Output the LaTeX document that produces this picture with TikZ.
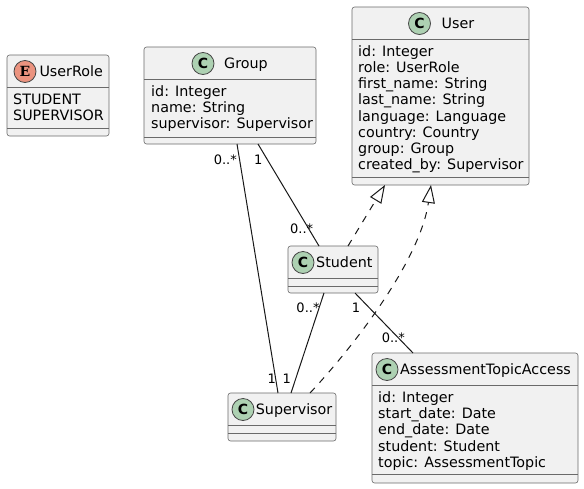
\documentclass[tikz,border=0pt]{standalone}
\usepackage{fontspec}
\setmainfont{DejaVu Sans}
\newfontfamily\enumspot{DejaVu Serif}
\usepackage{tikz}
\usetikzlibrary{calc,positioning,arrows.meta}
\definecolor{umlfill}{HTML}{F1F1F1}
\definecolor{umlline}{HTML}{181818}
\definecolor{umlborder}{HTML}{6A6A6A}
\definecolor{spotgreen}{HTML}{ADD1B2}
\definecolor{spotred}{HTML}{EB937F}
\tikzstyle{classbox} = [draw=umlborder, fill=umlfill, line width=0.6pt, rounded corners=2.5pt, inner sep=0pt, outer sep=0pt]
\tikzstyle{sepline}  = [draw=umlborder, line width=0.6pt]
\tikzstyle{spot}     = [circle, draw=umlline!80, line width=0.8pt, minimum size=22pt, inner sep=0pt, fill=spotgreen, font=\fontsize{14}{14}\selectfont\bfseries]
\tikzstyle{cname}    = [anchor=base west, inner sep=0pt, font=\fontsize{14.3}{16}\selectfont]
\tikzstyle{attr}     = [anchor=base west, inner sep=0pt, font=\fontsize{14.3}{16}\selectfont]
\tikzstyle{mult}     = [inner sep=0pt, font=\fontsize{13}{13}\selectfont]
\tikzstyle{assoc}    = [draw=umlline, line width=1pt]
\tikzstyle{realize}  = [draw=umlline, line width=1pt, dash pattern=on 7pt off 7pt, -{Triangle[open,length=18pt,width=13pt]}]

\begin{document}
\begin{tikzpicture}[x=1pt,y=-1pt]
		\useasboundingbox (0,0) rectangle (584,488);

		% enum UserRole
		\node[classbox, minimum width=102pt, minimum height=81pt] (userrole) at (58,95.5) {};
		\draw[sepline] (7,87.5) -- (109,87.5);
		\draw[sepline] (7,128) -- (109,128);
		\node[spot, fill=spotred, font=\fontsize{14}{14}\selectfont\enumspot\bfseries] (userrole-spot) at (25,71.5) {E};
		\node[cname] (userrole-name) at (39.3,76.5) {UserRole};
		\foreach \txt [count=\i from 0] in {STUDENT, SUPERVISOR}
			\node[attr] (userrole-\i) at (13,104+16.2*\i) {\txt};

		% Group
		\node[classbox, minimum width=172pt, minimum height=97pt] (group) at (230,95.5) {};
		\draw[sepline] (144,79.5) -- (316,79.5);
		\draw[sepline] (144,137) -- (316,137);
		\node[spot] (group-spot) at (203,63.5) {C};
		\node[cname] (group-name) at (224,68.5) {Group};
		\foreach \txt [count=\i from 0] in {id: Integer, name: String, supervisor: Supervisor}
			\node[attr] (group-\i) at (151,96.5+16.2*\i) {\txt};

		% User
		\node[classbox, minimum width=177pt, minimum height=178pt] (user) at (440.5,96) {};
		\draw[sepline] (352,39.5) -- (529,39.5);
		\draw[sepline] (352,177) -- (529,177);
		\node[spot] (user-spot) at (419.5,23.5) {C};
		\node[cname] (user-name) at (441.5,28.5) {User};
		\foreach \txt [count=\i from 0] in {id: Integer, role: UserRole, first\_name: String, last\_name: String, language: Language, country: Country, group: Group, created\_by: Supervisor}
			\node[attr] (user-\i) at (358,56.3+16.2*\i) {\txt};

		% Student
		\node[classbox, minimum width=90pt, minimum height=47pt] (student) at (333,269.5) {};
		\draw[sepline] (288,278.5) -- (378,278.5);
		\draw[sepline] (288,286) -- (378,286);
		\node[spot] (student-spot) at (303,262.5) {C};
		\node[cname] (student-name) at (316,267.5) {Student};

		% Supervisor
		\node[classbox, minimum width=108pt, minimum height=48pt] (supervisor) at (282,417) {};
		\draw[sepline] (228,425.5) -- (336,425.5);
		\draw[sepline] (228,433) -- (336,433);
		\node[spot] (supervisor-spot) at (243,409.5) {C};
		\node[cname] (supervisor-name) at (255.7,414.5) {Supervisor};

		% AssessmentTopicAccess
		\node[classbox, minimum width=206pt, minimum height=130pt] (access) at (475,418) {};
		\draw[sepline] (372,385.5) -- (578,385.5);
		\draw[sepline] (372,474) -- (578,474);
		\node[spot] (access-spot) at (387,369.5) {C};
		\node[cname] (access-name) at (400,374.5) {AssessmentTopicAccess};
		\foreach \txt [count=\i from 0] in {id: Integer, start\_date: Date, end\_date: Date, student: Student, topic: AssessmentTopic}
			\node[attr] (access-\i) at (378,402.5+16.2*\i) {\txt};

		% associations
		\draw[assoc] ([xshift=7pt]group.south) -- ([xshift=-4pt]supervisor.north);
		\draw[assoc] ([xshift=28pt]group.south) -- ([xshift=-14pt]student.north);
		\draw[assoc] ([xshift=-9pt]student.south) -- ([xshift=9pt]supervisor.north);
		\draw[assoc] ([xshift=22pt]student.south) -- ([xshift=-62pt]access.north);

		\node[mult] (m-gs1) at (225.3,160) {0..*};
		\node[mult] (m-gs2) at (271.7,378.5) {1};
		\node[mult] (m-gt1) at (258.3,160) {1};
		\node[mult] (m-gt2) at (301.7,229) {0..*};
		\node[mult] (m-ts1) at (308,308) {0..*};
		\node[mult] (m-ts2) at (286.7,378.5) {1};
		\node[mult] (m-ta1) at (356,308) {1};
		\node[mult] (m-ta2) at (393.3,338) {0..*};

		% realizations
		\draw[realize] ([xshift=15pt]student.north) -- ([xshift=-55.5pt]user.south);
		\draw[realize] ([xshift=28pt]supervisor.north) .. controls +(45,-48) and +(-11,75) .. ([xshift=-9.5pt]user.south);
	\end{tikzpicture}
\end{document}
